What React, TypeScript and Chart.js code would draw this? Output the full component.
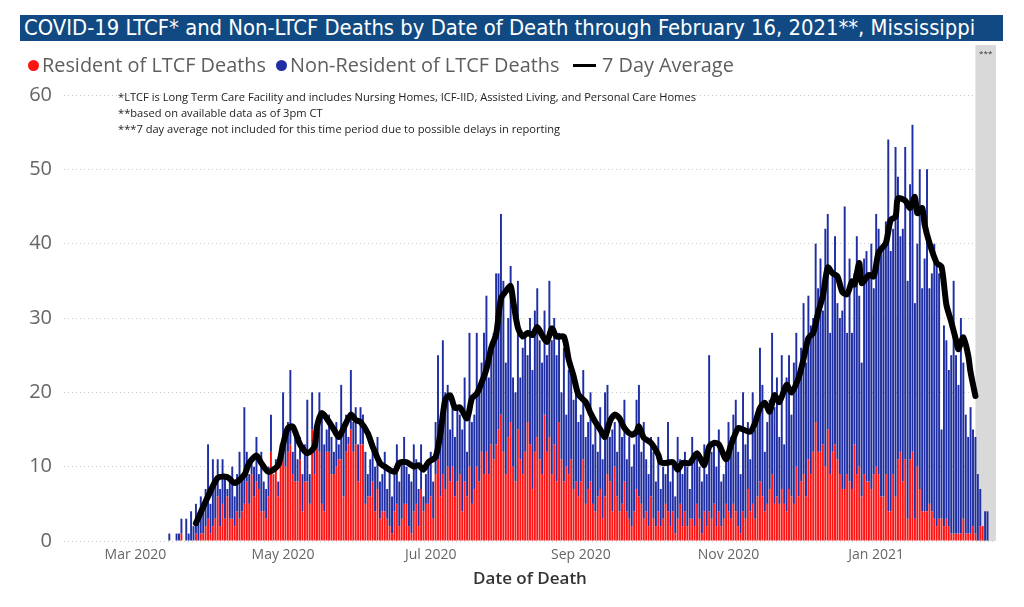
import React, { useEffect, useRef } from 'react';
import { Chart, registerables } from 'chart.js';

Chart.register(...registerables);

// ---------- data ----------
const axisStart = '2020-02-01';
const axisEnd = '2021-02-19';
const seriesStart = '2020-03-15';
const bandStart = '2021-02-11';

// total deaths per day (bar top), from 2020-03-15 to 2021-02-16
const totalDeaths = [
  1, 0, 0, 1, 1, 3, 0, 3, 1, 4,
  2, 5, 3, 6, 4, 7, 13, 5, 11, 8,
  11, 7, 11, 9, 7, 8, 10, 6, 9, 12,
  9, 18, 12, 9, 11, 10, 14, 9, 12, 8,
  7, 10, 17, 9, 11, 8, 13, 20, 15, 16,
  23, 12, 15, 11, 14, 9, 13, 19, 9, 20,
  14, 16, 20, 17, 13, 15, 17, 14, 12, 16,
  13, 21, 15, 17, 14, 23, 16, 18, 13, 18,
  17, 12, 9, 11, 13, 10, 14, 8, 9, 12,
  7, 10, 6, 9, 13, 8, 11, 14, 10, 9,
  8, 13, 11, 7, 13, 6, 9, 10, 12, 8,
  16, 25, 14, 27, 20, 21, 15, 19, 14, 18,
  17, 15, 22, 12, 28, 16, 17, 28, 20, 24,
  28, 33, 22, 25, 28, 36, 36, 44, 35, 24,
  30, 37, 22, 20, 35, 22, 26, 28, 25, 30,
  23, 31, 34, 27, 24, 31, 25, 35, 27, 30,
  25, 28, 20, 26, 17, 23, 24, 19, 21, 16,
  17, 23, 14, 16, 20, 13, 16, 12, 18, 11,
  20, 21, 14, 15, 16, 12, 16, 14, 19, 11,
  14, 10, 13, 19, 21, 12, 16, 11, 9, 14,
  12, 8, 14, 7, 10, 9, 16, 8, 10, 6,
  14, 11, 9, 12, 10, 7, 14, 11, 12, 10,
  8, 13, 9, 25, 12, 13, 10, 15, 8, 9,
  12, 16, 14, 17, 19, 12, 9, 20, 13, 16,
  11, 20, 15, 17, 26, 21, 12, 16, 19, 28,
  18, 22, 14, 25, 13, 22, 25, 17, 24, 28,
  22, 26, 32, 24, 33, 29, 30, 40, 34, 38,
  31, 42, 44, 28, 36, 41, 32, 30, 31, 45,
  28, 38, 28, 36, 41, 33, 24, 38, 39, 36,
  40, 34, 44, 42, 39, 40, 43, 54, 39, 42,
  53, 49, 41, 42, 53, 35, 48, 56, 32, 40,
  50, 34, 38, 50, 34, 36, 40, 38, 36, 15,
  29, 27, 23, 25, 35, 25, 21, 30, 24, 17,
  14, 18, 15, 14, 9, 7, 2, 4, 4,
];

// resident of LTCF deaths per day (red part), same days
const residentDeaths = [
  0, 0, 0, 0, 0, 1, 0, 0, 0, 0,
  0, 1, 0, 1, 1, 2, 3, 1, 2, 3,
  6, 2, 5, 3, 6, 3, 3, 2, 4, 3,
  4, 5, 8, 5, 9, 6, 8, 7, 4, 4,
  3, 6, 12, 9, 10, 6, 10, 13, 10, 12,
  13, 9, 8, 8, 11, 4, 8, 8, 5, 15,
  9, 15, 12, 5, 4, 12, 12, 9, 9, 10,
  11, 11, 6, 12, 13, 15, 12, 13, 8, 13,
  13, 5, 6, 6, 8, 4, 7, 3, 4, 4,
  3, 2, 1, 4, 5, 2, 3, 5, 5, 2,
  1, 4, 5, 2, 7, 4, 5, 5, 6, 3,
  9, 11, 6, 9, 7, 10, 8, 10, 6, 8,
  9, 4, 8, 6, 10, 5, 7, 10, 8, 12,
  9, 12, 9, 13, 11, 13, 15, 17, 12, 9,
  14, 16, 10, 8, 15, 11, 9, 12, 16, 13,
  7, 12, 14, 11, 9, 17, 12, 14, 9, 13,
  8, 16, 11, 8, 10, 9, 11, 7, 8, 6,
  8, 11, 5, 7, 8, 5, 4, 6, 7, 3,
  6, 9, 8, 4, 10, 6, 4, 5, 8, 4,
  3, 2, 4, 7, 6, 5, 3, 4, 2, 6,
  3, 2, 4, 2, 3, 5, 4, 2, 4, 1,
  3, 5, 2, 4, 2, 3, 3, 2, 5, 3,
  1, 4, 2, 4, 3, 5, 2, 4, 2, 3,
  5, 4, 3, 5, 4, 2, 1, 4, 3, 7,
  4, 5, 3, 6, 8, 6, 4, 5, 7, 9,
  5, 6, 5, 7, 5, 4, 7, 6, 5, 10,
  6, 8, 9, 6, 11, 9, 12, 16, 12, 12,
  13, 10, 15, 9, 12, 13, 11, 9, 7, 7,
  9, 8, 7, 13, 9, 10, 6, 9, 8, 8,
  7, 9, 10, 9, 6, 6, 9, 4, 4, 9,
  6, 11, 12, 8, 11, 3, 11, 12, 3, 10,
  7, 4, 4, 4, 5, 4, 3, 2, 3, 3,
  2, 3, 2, 1, 1, 1, 1, 1, 3, 1,
  1, 1, 2, 1, 0, 2, 2, 0, 0,
];

// 7 day average, read at these dates
const avgDates = [
  '2020-03-26', '2020-03-31', '2020-04-04', '2020-04-08', '2020-04-11', '2020-04-15', '2020-04-17',
  '2020-04-20', '2020-04-22', '2020-04-25', '2020-04-29', '2020-05-01', '2020-05-03', '2020-05-05',
  '2020-05-08', '2020-05-11', '2020-05-14', '2020-05-15', '2020-05-17', '2020-05-19', '2020-05-22',
  '2020-05-24', '2020-05-26', '2020-05-29', '2020-05-31', '2020-06-02', '2020-06-05', '2020-06-07',
  '2020-06-10', '2020-06-12', '2020-06-16', '2020-06-18', '2020-06-21', '2020-06-24', '2020-06-26',
  '2020-06-28', '2020-06-30', '2020-07-03', '2020-07-05', '2020-07-07', '2020-07-09', '2020-07-11',
  '2020-07-13', '2020-07-16', '2020-07-18', '2020-07-20', '2020-07-22', '2020-07-24', '2020-07-26',
  '2020-07-28', '2020-07-30', '2020-08-01', '2020-08-03', '2020-08-04', '2020-08-06', '2020-08-08',
  '2020-08-10', '2020-08-12', '2020-08-14', '2020-08-16', '2020-08-18', '2020-08-20', '2020-08-22',
  '2020-08-25', '2020-08-27', '2020-08-29', '2020-08-31', '2020-09-03', '2020-09-05', '2020-09-07',
  '2020-09-09', '2020-09-11', '2020-09-13', '2020-09-15', '2020-09-17', '2020-09-19', '2020-09-22',
  '2020-09-24', '2020-09-25', '2020-09-27', '2020-09-30', '2020-10-03', '2020-10-04', '2020-10-06',
  '2020-10-09', '2020-10-11', '2020-10-13', '2020-10-16', '2020-10-19', '2020-10-22', '2020-10-24',
  '2020-10-26', '2020-10-28', '2020-10-31', '2020-11-02', '2020-11-05', '2020-11-07', '2020-11-10',
  '2020-11-12', '2020-11-14', '2020-11-16', '2020-11-18', '2020-11-20', '2020-11-22', '2020-11-25',
  '2020-11-27', '2020-11-30', '2020-12-02', '2020-12-04', '2020-12-06', '2020-12-08', '2020-12-10',
  '2020-12-12', '2020-12-14', '2020-12-16', '2020-12-18', '2020-12-20', '2020-12-22', '2020-12-23',
  '2020-12-25', '2020-12-26', '2020-12-29', '2020-12-31', '2021-01-02', '2021-01-05', '2021-01-07',
  '2021-01-09', '2021-01-10', '2021-01-13', '2021-01-15', '2021-01-17', '2021-01-18', '2021-01-20',
  '2021-01-21', '2021-01-23', '2021-01-26', '2021-01-28', '2021-01-30', '2021-02-01', '2021-02-03',
  '2021-02-04', '2021-02-06', '2021-02-08', '2021-02-09', '2021-02-11',
];
const avgValues = [
  2.4, 6, 8.5, 8.6, 7.8, 8.9, 10.5,
  11.5, 10.5, 9.3, 10.2, 13, 15.2, 15.4,
  13, 11.8, 12.7, 15.4, 17.2, 16.5, 15,
  14, 15.2, 17, 16.3, 16, 14.5, 12.7,
  10.5, 10, 9.3, 10.5, 10.6, 10, 10.2,
  9.6, 10.6, 11.3, 14.5, 19, 19.6, 17.9,
  18, 16.5, 19.2, 19.8, 21.3, 23.1, 26,
  27.8, 32.6, 33.6, 34.3, 32.4, 28.7, 27.5,
  28, 27.7, 28.8, 27.7, 26.8, 28.6, 27.5,
  27.5, 24.4, 22.2, 19.7, 18.7, 17.2, 16,
  15, 14, 16.1, 17, 16.5, 15.2, 14.3,
  14.7, 15.4, 13.9, 13.2, 11.6, 10.6, 10.5,
  10.6, 9.6, 10.5, 10.5, 11.8, 10.2, 12.7,
  13.2, 13, 11, 12.9, 15.2, 15, 14.7,
  15.9, 17.9, 18.6, 17.4, 19.6, 18.7, 21,
  20, 22, 24.5, 27.3, 28, 30.7, 33,
  36.8, 36, 35.6, 33.5, 33.2, 34.9, 34.5,
  37.4, 34.7, 35.8, 35.6, 38.8, 40.1, 43.2,
  43.6, 46.1, 45.8, 44.8, 46.3, 44.1, 44.8,
  42.6, 40.1, 37.4, 36.9, 31.8, 29.5, 27,
  25.8, 27.4, 25, 22.7, 19.5,
];

const monthTickDates = ['2020-03-01', '2020-05-01', '2020-07-01', '2020-09-01', '2020-11-01', '2021-01-01'];
const monthTickLabels = ['Mar 2020', 'May 2020', 'Jul 2020', 'Sep 2020', 'Nov 2020', 'Jan 2021'];

const titleText = 'COVID-19 LTCF* and Non-LTCF Deaths by Date of Death through February 16, 2021**, Mississippi';
const legendLabels = ['Resident of LTCF Deaths', 'Non-Resident of LTCF Deaths', '7 Day Average'];
const footnotes = [
  '*LTCF is Long Term Care Facility and includes Nursing Homes, ICF-IID, Assisted Living, and Personal Care Homes',
  '**based on available data as of 3pm CT',
  '***7 day average not included for this time period due to possible delays in reporting',
];
const xAxisTitle = 'Date of Death';
const bandNote = '***';

const RED = '#FF1414';
const BLUE = '#1F2EA2';

// ---------- helpers ----------
function isoDay(t: number) {
  return new Date(t).toISOString().slice(0, 10);
}
function buildLabels(from: string, to: string) {
  const out: string[] = [];
  let t = Date.parse(from + 'T00:00:00Z');
  const end = Date.parse(to + 'T00:00:00Z');
  while (t <= end) {
    out.push(isoDay(t));
    t += 86400000;
  }
  return out;
}
function fitFont(text: string, family: string, weight: string, target: number) {
  const c = document.createElement('canvas').getContext('2d') as CanvasRenderingContext2D;
  c.font = `${weight} 100px ${family}`;
  return (100 * target) / c.measureText(text).width;
}

const bandPlugin = {
  id: 'reportingBand',
  beforeDatasetsDraw(chart: any) {
    const { ctx, chartArea, scales } = chart;
    const idx = chart.data.labels.indexOf(bandStart);
    const x0 = scales.x.getPixelForValue(idx);
    ctx.save();
    ctx.fillStyle = '#D9D9D9';
    ctx.fillRect(x0, 45, chartArea.right - x0, chartArea.bottom - 45);
    ctx.fillStyle = '#333';
    ctx.font = '8px "Open Sans"';
    ctx.textAlign = 'center';
    ctx.textBaseline = 'middle';
    ctx.fillText(bandNote, (x0 + chartArea.right) / 2, 54);
    ctx.restore();
  },
};

export default function App() {
  const canvasRef = useRef<HTMLCanvasElement | null>(null);

  useEffect(() => {
    const labels = buildLabels(axisStart, axisEnd);
    const offset = labels.indexOf(seriesStart);
    const pick = (i: number) => i - offset;
    const redData = labels.map((_, i) => {
      const k = pick(i);
      return k >= 0 && k < residentDeaths.length ? residentDeaths[k] : null;
    });
    const blueData = labels.map((_, i) => {
      const k = pick(i);
      return k >= 0 && k < totalDeaths.length ? [residentDeaths[k], totalDeaths[k]] : null;
    });
    const lineData = avgDates.map((d, i) => ({ x: d, y: avgValues[i] }));

    const chart = new Chart(canvasRef.current as HTMLCanvasElement, {
      type: 'bar',
      data: {
        labels,
        datasets: [
          {
            type: 'line',
            label: legendLabels[2],
            data: lineData as any,
            borderColor: '#000',
            borderWidth: 6,
            pointRadius: 0,
            tension: 0.25,
            borderCapStyle: 'round',
            borderJoinStyle: 'round',
            order: 0,
          } as any,
          {
            label: legendLabels[0],
            data: redData as any,
            backgroundColor: RED,
            borderWidth: 0,
            categoryPercentage: 0.8,
            barPercentage: 1,
            order: 2,
          },
          {
            label: legendLabels[1],
            data: blueData as any,
            backgroundColor: BLUE,
            borderWidth: 0,
            categoryPercentage: 0.8,
            barPercentage: 1,
            order: 1,
          },
        ],
      },
      options: {
        responsive: false,
        animation: false,
        devicePixelRatio: 1,
        layout: { padding: { top: 95, right: 28, bottom: 0, left: 0 } },
        plugins: {
          legend: { display: false },
          tooltip: { enabled: false },
          title: { display: false },
        },
        scales: {
          x: {
            stacked: true,
            offset: true,
            grid: { display: false, drawTicks: false },
            border: { display: false },
            ticks: {
              autoSkip: false,
              maxRotation: 0,
              minRotation: 0,
              padding: 6,
              color: '#666',
              font: { family: '"Open Sans"', size: 14 },
              callback: function (this: any, v: any) {
                const lab = this.getLabelForValue(v);
                const k = monthTickDates.indexOf(lab);
                return k >= 0 ? monthTickLabels[k] : '';
              },
            },
            title: {
              display: true,
              text: xAxisTitle,
              color: '#333',
              font: { family: '"Open Sans"', size: 17, weight: '600' },
              padding: { top: 0, bottom: 18 },
            },
            afterFit: (s: any) => {
              s.height = 66;
            },
          } as any,
          y: {
            min: 0,
            max: 60,
            ticks: {
              stepSize: 10,
              padding: 12,
              color: '#666',
              font: { family: '"Open Sans"', size: 20 },
            },
            grid: { color: '#C8C8C8', drawTicks: false, lineWidth: 1 },
            border: { display: false, dash: [1, 3] },
            afterFit: (s: any) => {
              s.width = 64;
            },
          } as any,
        },
      },
      plugins: [bandPlugin],
    });
    return () => chart.destroy();
  }, []);

  const titleFamily = '"DejaVu Sans Condensed", "DejaVu Sans", sans-serif';
  const titleSize = fitFont(titleText, titleFamily, '400', 952);
  const legendFamily = '"Open Sans", sans-serif';
  const legendSize = fitFont(legendLabels[0], legendFamily, '400', 224);
  const noteFamily = '"Open Sans", sans-serif';
  const noteSize = fitFont(footnotes[0], noteFamily, '400', 579);

  const legendText = (text: string, left: number) => (
    <div
      style={{
        position: 'absolute',
        left,
        top: 52,
        height: 26,
        lineHeight: '26px',
        fontFamily: legendFamily,
        fontSize: legendSize,
        color: '#605E5C',
        whiteSpace: 'nowrap',
      }}
    >
      {text}
    </div>
  );
  const dot = (color: string, left: number) => (
    <div
      style={{
        position: 'absolute',
        left,
        top: 60,
        width: 11,
        height: 11,
        borderRadius: '50%',
        background: color,
      }}
    />
  );

  return (
    <div
      style={{
        position: 'absolute',
        left: 0,
        top: 0,
        width: 1024,
        height: 607,
        background: '#fff',
        overflow: 'hidden',
      }}
    >
      <canvas ref={canvasRef} width={1024} height={607} style={{ position: 'absolute', left: 0, top: 0 }} />
      <div style={{ position: 'absolute', left: 20, top: 15, width: 983, height: 26, background: '#114A82' }} />
      <div
        style={{
          position: 'absolute',
          left: 24,
          top: 15,
          height: 26,
          lineHeight: '26px',
          color: '#fff',
          fontFamily: titleFamily,
          fontSize: titleSize,
          whiteSpace: 'nowrap',
        }}
      >
        {titleText}
      </div>
      {dot(RED, 28)}
      {legendText(legendLabels[0], 42)}
      {dot(BLUE, 276)}
      {legendText(legendLabels[1], 290)}
      <div style={{ position: 'absolute', left: 573, top: 64, width: 23, height: 3, background: '#000' }} />
      {legendText(legendLabels[2], 602)}
      {footnotes.map((f, i) => (
        <div
          key={i}
          style={{
            position: 'absolute',
            left: 118,
            top: 89 + i * 16,
            height: 16,
            lineHeight: '16px',
            fontFamily: noteFamily,
            fontSize: noteSize,
            color: '#222',
            whiteSpace: 'nowrap',
          }}
        >
          {f}
        </div>
      ))}
    </div>
  );
}
